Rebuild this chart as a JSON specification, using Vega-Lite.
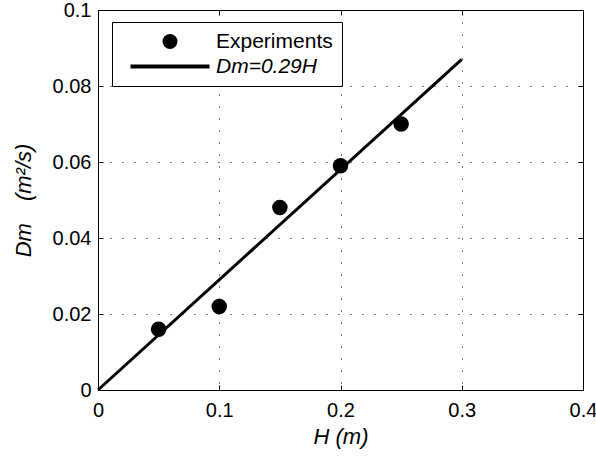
{
  "$schema": "https://vega.github.io/schema/vega-lite/v6.json",
  "width": 485,
  "height": 380,
  "autosize": {"type": "none"},
  "padding": {"left": 98, "top": 10, "right": 13, "bottom": 67},
  "background": "white",
  "config": {
    "font": "Liberation Sans",
    "view": {"stroke": "black", "strokeWidth": 1},
    "axis": {
      "labelFont": "Liberation Sans",
      "labelFontSize": 20,
      "labelColor": "black",
      "titleFont": "Liberation Sans",
      "titleFontSize": 22,
      "titleFontStyle": "italic",
      "titleFontWeight": "normal",
      "titleColor": "black",
      "domainColor": "black",
      "tickColor": "black",
      "gridColor": "black",
      "gridDash": [1, 11],
      "gridWidth": 1,
      "gridOpacity": 1
    }
  },
  "datasets": {
    "exp": [
      {"H": 0.05, "Dm": 0.016, "series": "Experiments"},
      {"H": 0.10, "Dm": 0.022, "series": "Experiments"},
      {"H": 0.15, "Dm": 0.048, "series": "Experiments"},
      {"H": 0.20, "Dm": 0.059, "series": "Experiments"},
      {"H": 0.25, "Dm": 0.070, "series": "Experiments"}
    ],
    "fit": [
      {"H": 0, "Dm": 0},
      {"H": 0.3, "Dm": 0.087}
    ]
  },
  "layer": [
    {
      "data": {"name": "fit"},
      "mark": {"type": "line", "color": "black", "strokeWidth": 3},
      "encoding": {
        "x": {
          "field": "H", "type": "quantitative",
          "scale": {"domain": [0, 0.4], "nice": false, "zero": false},
          "axis": {
            "orient": "bottom", "title": "H (m)", "values": [0, 0.1, 0.2, 0.3, 0.4],
            "format": "~g", "grid": true, "tickSize": -5, "labelPadding": 15,
            "titlePadding": 6, "labelFlush": false, "labelOverlap": false
          }
        },
        "y": {
          "field": "Dm", "type": "quantitative",
          "scale": {"domain": [0, 0.1], "nice": false, "zero": false},
          "axis": {
            "orient": "left", "title": "Dm\u2003(m²/s)", "values": [0, 0.02, 0.04, 0.06, 0.08, 0.1],
            "format": "~g", "grid": true, "tickSize": -5, "labelPadding": 12,
            "titlePadding": 17, "labelFlush": false, "labelOverlap": false
          }
        }
      }
    },
    {
      "data": {"name": "exp"},
      "mark": {"type": "point", "filled": true, "color": "black", "opacity": 1, "size": 240},
      "encoding": {
        "x": {
          "field": "H", "type": "quantitative",
          "axis": {
            "orient": "top", "title": null, "values": [0, 0.1, 0.2, 0.3, 0.4],
            "labels": false, "grid": false, "domain": false, "tickSize": -5
          }
        },
        "y": {
          "field": "Dm", "type": "quantitative",
          "axis": {
            "orient": "right", "title": null, "values": [0, 0.02, 0.04, 0.06, 0.08, 0.1],
            "labels": false, "grid": false, "domain": false, "tickSize": -5
          }
        },
        "shape": {
          "field": "series", "type": "nominal",
          "scale": {"domain": ["Experiments", "Dm=0.29H"], "range": ["circle", "M-5.27,-0.27H5.27V0.27H-5.27Z"]},
          "legend": {
            "title": null,
            "orient": "none",
            "legendX": 14,
            "legendY": 12,
            "direction": "vertical",
            "padding": 9,
            "fillColor": "white",
            "strokeColor": "black",
            "symbolSize": 225,
            "symbolFillColor": "black",
            "symbolStrokeColor": "black",
            "symbolStrokeWidth": 0,
            "symbolOpacity": 1,
            "symbolOffset": 38.5,
            "labelOffset": 35.5,
            "labelFont": "Liberation Sans",
            "labelFontSize": 21,
            "labelColor": "black",
            "labelFontStyle": {"expr": "datum.label == 'Dm=0.29H' ? 'italic' : 'normal'"},
            "rowPadding": 3
          }
        }
      }
    }
  ],
  "resolve": {"axis": {"x": "independent", "y": "independent"}}
}
